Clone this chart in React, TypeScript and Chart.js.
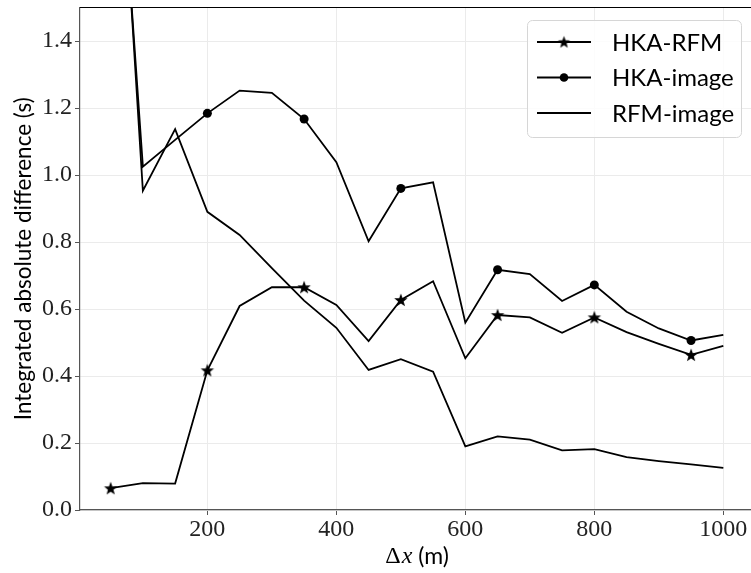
import React, { useEffect, useRef } from "react";
import { Chart, registerables } from "chart.js";

Chart.register(...registerables);

const xValues = [50, 100, 150, 200, 250, 300, 350, 400, 450, 500, 550, 600, 650, 700, 750, 800, 850, 900, 950, 1000];
const hkaRfm = [0.065, 0.08, 0.079, 0.417, 0.609, 0.665, 0.665, 0.612, 0.504, 0.627, 0.683, 0.453, 0.582, 0.575, 0.529, 0.575, 0.531, 0.496, 0.463, 0.49];
const hkaImage = [2.4, 1.025, 1.105, 1.184, 1.252, 1.245, 1.167, 1.038, 0.802, 0.96, 0.978, 0.559, 0.717, 0.704, 0.624, 0.672, 0.592, 0.542, 0.506, 0.523];
const rfmImage = [2.5, 0.953, 1.137, 0.89, 0.821, 0.722, 0.625, 0.544, 0.418, 0.45, 0.413, 0.19, 0.22, 0.21, 0.178, 0.182, 0.158, 0.146, 0.136, 0.126];
const xTicks = [200, 400, 600, 800, 1000];
const yTicks = [0, 0.2, 0.4, 0.6, 0.8, 1.0, 1.2, 1.4];
const seriesLabels = ["HKA-RFM", "HKA-image", "RFM-image"];
const seriesMarkers = ["star", "circle", "none"];
const yTitle = "Integrated absolute difference (s)";

const SERIF = "'Liberation Serif', 'DejaVu Serif', serif";
const SANS = "Lato, 'Open Sans', sans-serif";

const VIEW_W = 751;
const VIEW_H = 573;
const CANVAS_W = 780;

function makeStar(outer: number, inner: number): HTMLCanvasElement {
  const size = Math.ceil(outer * 2 + 2);
  const c = document.createElement("canvas");
  c.width = size;
  c.height = size;
  const g = c.getContext("2d")!;
  const cx = size / 2;
  const cy = size / 2 + 0.5;
  g.beginPath();
  for (let i = 0; i < 10; i++) {
    const r = i % 2 === 0 ? outer : inner;
    const a = -Math.PI / 2 + (i * Math.PI) / 5;
    const px = cx + r * Math.cos(a);
    const py = cy + r * Math.sin(a);
    if (i === 0) g.moveTo(px, py);
    else g.lineTo(px, py);
  }
  g.closePath();
  g.fillStyle = "#000";
  g.fill();
  return c;
}

function pts(ys: number[]) {
  return xValues.map((x, i) => ({ x, y: ys[i] }));
}

export default function App() {
  const ref = useRef<HTMLCanvasElement | null>(null);

  useEffect(() => {
    if (!ref.current) return;
    const star = makeStar(7, 2.9);
    const legendStar = makeStar(6.5, 2.7);
    const markerRadius = (c: any) => (c.dataIndex % 3 === 0 ? 4.5 : 0);

    const decor = {
      id: "decor",
      afterDraw(chart: any) {
        const ctx = chart.ctx as CanvasRenderingContext2D;
        const a = chart.chartArea;
        ctx.save();
        // top spine
        ctx.strokeStyle = "#000";
        ctx.lineWidth = 1;
        ctx.beginPath();
        ctx.moveTo(a.left, a.top);
        ctx.lineTo(a.right, a.top);
        ctx.stroke();

        // legend
        const bx = VIEW_W - 224;
        const by = a.top + 12.5;
        const bw = 214;
        const bh = 117;
        ctx.beginPath();
        (ctx as any).roundRect(bx + 0.5, by + 0.5, bw, bh, 5);
        ctx.fillStyle = "rgba(255,255,255,0.85)";
        ctx.fill();
        ctx.strokeStyle = "#d6d6d6";
        ctx.lineWidth = 1;
        ctx.stroke();
        const rows = [by + 22, by + 57.5, by + 93];
        seriesLabels.forEach((lab, i) => {
          const ry = rows[i];
          ctx.strokeStyle = "#000";
          ctx.lineWidth = 1.8;
          ctx.beginPath();
          ctx.moveTo(bx + 10, ry);
          ctx.lineTo(bx + 64, ry);
          ctx.stroke();
          const mx = bx + 37;
          if (seriesMarkers[i] === "star") {
            ctx.drawImage(legendStar, mx - legendStar.width / 2, ry - legendStar.height / 2);
          } else if (seriesMarkers[i] === "circle") {
            ctx.beginPath();
            ctx.arc(mx, ry, 4.3, 0, Math.PI * 2);
            ctx.fillStyle = "#000";
            ctx.fill();
          }
          ctx.fillStyle = "#000";
          ctx.font = `24px ${SANS}`;
          ctx.textBaseline = "middle";
          ctx.textAlign = "left";
          ctx.fillText(lab, bx + 85, ry + 1);
        });

        // y title
        ctx.save();
        ctx.translate(23.5, (a.top + a.bottom) / 2);
        ctx.rotate(-Math.PI / 2);
        ctx.font = `22.5px ${SANS}`;
        ctx.fillStyle = "#000";
        ctx.textAlign = "center";
        ctx.textBaseline = "middle";
        ctx.fillText(yTitle, 0, 0);
        ctx.restore();

        // x title: "Δx (m)"
        const cy = 557;
        const p1 = "\u0394";
        const p2 = "x";
        const p3 = " (m)";
        ctx.textBaseline = "middle";
        ctx.textAlign = "left";
        ctx.font = `24px ${SERIF}`;
        const w1 = ctx.measureText(p1).width;
        ctx.font = `italic 24px ${SERIF}`;
        const w2 = ctx.measureText(p2).width;
        ctx.font = `23px ${SANS}`;
        const w3 = ctx.measureText(p3).width;
        const total = w1 + w2 + w3 + 1;
        let tx = 417 - total / 2;
        ctx.fillStyle = "#000";
        ctx.font = `24px ${SERIF}`;
        ctx.fillText(p1, tx, cy);
        tx += w1 + 1;
        ctx.font = `italic 24px ${SERIF}`;
        ctx.fillText(p2, tx, cy);
        tx += w2;
        ctx.font = `23px ${SANS}`;
        ctx.fillText(p3, tx, cy);
        ctx.restore();
      },
    };

    const chart = new Chart(ref.current, {
      type: "line",
      data: {
        datasets: [
          {
            label: seriesLabels[0],
            data: pts(hkaRfm),
            borderColor: "#000",
            backgroundColor: "#000",
            borderWidth: 1.8,
            pointStyle: star as any,
            pointRadius: markerRadius as any,
            tension: 0,
          },
          {
            label: seriesLabels[1],
            data: pts(hkaImage),
            borderColor: "#000",
            backgroundColor: "#000",
            borderWidth: 1.8,
            pointStyle: "circle",
            pointRadius: markerRadius as any,
            pointBorderWidth: 0,
            tension: 0,
          },
          {
            label: seriesLabels[2],
            data: pts(rfmImage),
            borderColor: "#000",
            backgroundColor: "#000",
            borderWidth: 1.8,
            pointRadius: 0,
            tension: 0,
          },
        ],
      },
      options: {
        animation: false,
        responsive: false,
        devicePixelRatio: 1,
        events: [],
        layout: { autoPadding: false, padding: { top: 7.5, right: 0, left: 0, bottom: 0 } },
        plugins: {
          legend: { display: false },
          tooltip: { enabled: false },
          title: { display: false },
        },
        scales: {
          x: {
            type: "linear",
            min: 2.5,
            max: 1087.9,
            afterBuildTicks: (s: any) => {
              s.ticks = xTicks.map((v) => ({ value: v }));
            },
            afterFit: (s: any) => {
              s.height = 63;
              s.paddingLeft = 0;
              s.paddingRight = 0;
            },
            grid: {
              color: "#ebebeb",
              lineWidth: 1,
              tickColor: "#555",
              tickLength: 5,
              drawTicks: true,
            },
            border: { color: "#555", width: 1.2 },
            ticks: {
              color: "#222",
              font: { family: SERIF, size: 24 },
              padding: 0,
              maxRotation: 0,
              autoSkip: false,
              callback: (v: any) => String(v),
            },
          },
          y: {
            type: "linear",
            min: 0,
            max: 1.5,
            afterBuildTicks: (s: any) => {
              s.ticks = yTicks.map((v) => ({ value: v }));
            },
            afterFit: (s: any) => {
              s.width = 80;
              s.paddingTop = 0;
              s.paddingBottom = 0;
            },
            grid: {
              color: "#ebebeb",
              lineWidth: 1,
              tickColor: "#555",
              tickLength: 5,
              drawTicks: true,
            },
            border: { color: "#555", width: 1.2 },
            ticks: {
              color: "#222",
              font: { family: SERIF, size: 24 },
              padding: 3,
              autoSkip: false,
              callback: (v: any) => Number(v).toFixed(1),
            },
          },
        },
      },
      plugins: [decor],
    });
    return () => chart.destroy();
  }, []);

  return (
    <div style={{ position: "absolute", left: 0, top: 0, width: VIEW_W, height: VIEW_H, overflow: "hidden", background: "#fff" }}>
      <canvas ref={ref} width={CANVAS_W} height={VIEW_H} style={{ display: "block" }} />
    </div>
  );
}
